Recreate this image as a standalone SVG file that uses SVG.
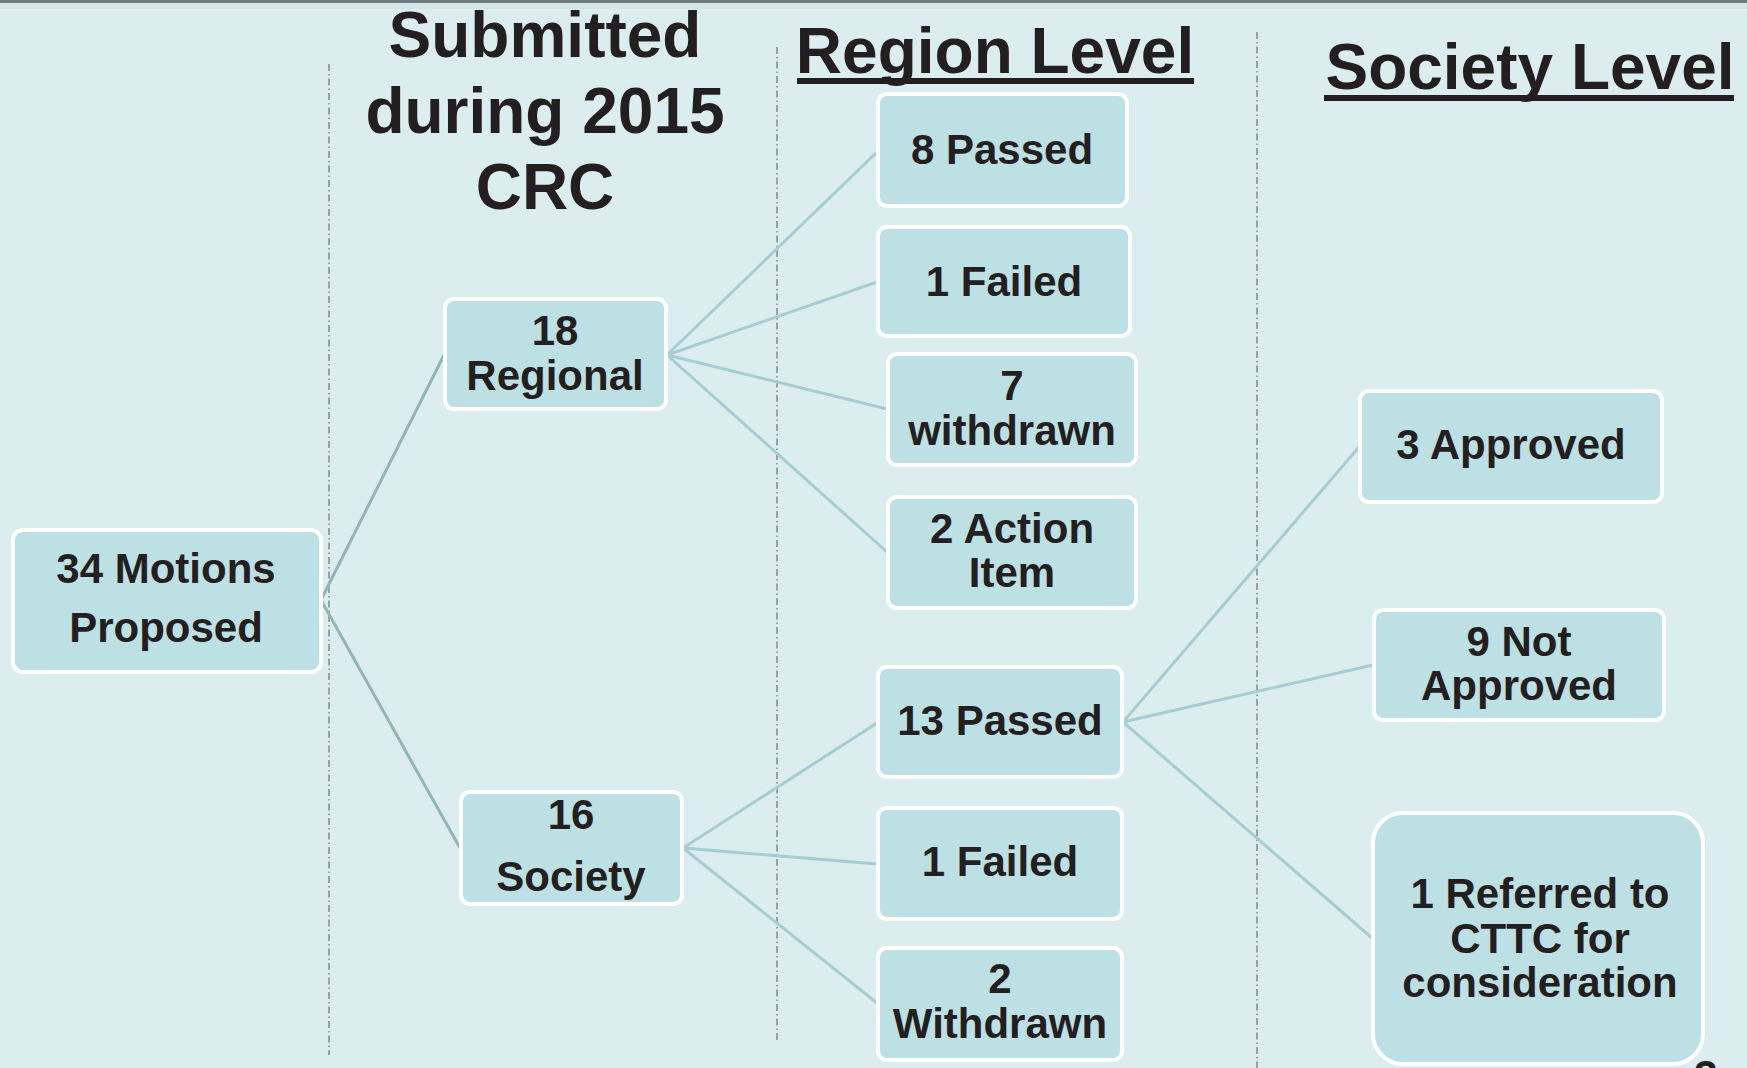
<svg xmlns="http://www.w3.org/2000/svg" width="1747" height="1068" viewBox="0 0 1747 1068">
<style>
.bg{fill:#DCEDEF}
.node rect{fill:#BDE0E4;stroke:#FFFFFF;stroke-width:4}
.t{font-family:"Liberation Sans",Arial,sans-serif;font-weight:bold;font-size:42px;fill:#231F20;text-anchor:middle}
.h{font-family:"Liberation Sans",Arial,sans-serif;font-weight:bold;font-size:64px;fill:#231F20;text-anchor:middle}
.div{stroke:#808080;stroke-width:1.4;stroke-dasharray:7 3 1.5 3;fill:none}
.c{stroke:#A6CDD1;stroke-width:3;fill:none}
.cl{stroke:#94B5B8;stroke-width:3;fill:none}
</style>
<rect class="bg" x="0" y="0" width="1747" height="1068"/>
<rect x="0" y="0" width="1747" height="3" fill="#6E7C80"/>
<rect x="0" y="3" width="1747" height="6" fill="#D5E6E9"/>

<g id="dividers">
<line class="div" x1="329" y1="64" x2="329" y2="1055"/>
<line class="div" x1="777" y1="47" x2="777" y2="1040"/>
<line class="div" x1="1257" y1="32" x2="1257" y2="1068"/>
</g>

<g id="headers">
<text class="h" x="545" y="57">Submitted</text>
<text class="h" x="545" y="133">during 2015</text>
<text class="h" x="545" y="209">CRC</text>
<text class="h" x="995" y="73">Region Level</text>
<rect x="797" y="78" width="397" height="6" fill="#231F20"/>
<text class="h" x="1530" y="89">Society Level</text>
<rect x="1324" y="95" width="410" height="6" fill="#231F20"/>
</g>

<g id="connectors">
<line class="cl" x1="321" y1="600" x2="444" y2="355"/>
<line class="cl" x1="321" y1="600" x2="460" y2="848"/>
<line class="c" x1="667" y1="355" x2="877" y2="152"/>
<line class="c" x1="667" y1="355" x2="877" y2="282"/>
<line class="c" x1="667" y1="355" x2="887" y2="409"/>
<line class="c" x1="667" y1="355" x2="887" y2="552"/>
<line class="c" x1="683" y1="848" x2="877" y2="723"/>
<line class="c" x1="683" y1="848" x2="877" y2="864"/>
<line class="c" x1="683" y1="848" x2="877" y2="1003"/>
<line class="c" x1="1123" y1="722" x2="1359" y2="447"/>
<line class="c" x1="1123" y1="722" x2="1373" y2="665"/>
<line class="c" x1="1123" y1="722" x2="1372" y2="938"/>
</g>

<g id="n-motions" class="node">
<rect x="13" y="530" width="308" height="142" rx="10"/>
<text class="t" x="166" y="583">34 Motions</text>
<text class="t" x="166" y="642">Proposed</text>
</g>
<g id="n-regional" class="node">
<rect x="445" y="299" width="221" height="110" rx="9"/>
<text class="t" x="555" y="345">18</text>
<text class="t" x="555" y="390">Regional</text>
</g>
<g id="n-society" class="node">
<rect x="461" y="792" width="221" height="112" rx="9"/>
<text class="t" x="571" y="829">16</text>
<text class="t" x="571" y="891">Society</text>
</g>
<g id="n-r-passed" class="node">
<rect x="878" y="94" width="249" height="112" rx="9"/>
<text class="t" x="1002" y="164">8 Passed</text>
</g>
<g id="n-r-failed" class="node">
<rect x="878" y="227" width="252" height="109" rx="9"/>
<text class="t" x="1004" y="296">1 Failed</text>
</g>
<g id="n-r-withdrawn" class="node">
<rect x="888" y="354" width="248" height="111" rx="9"/>
<text class="t" x="1012" y="400">7</text>
<text class="t" x="1012" y="445">withdrawn</text>
</g>
<g id="n-r-action" class="node">
<rect x="888" y="497" width="248" height="111" rx="9"/>
<text class="t" x="1012" y="543">2 Action</text>
<text class="t" x="1012" y="587">Item</text>
</g>
<g id="n-s-passed" class="node">
<rect x="878" y="667" width="244" height="110" rx="9"/>
<text class="t" x="1000" y="735">13 Passed</text>
</g>
<g id="n-s-failed" class="node">
<rect x="878" y="808" width="244" height="111" rx="9"/>
<text class="t" x="1000" y="876">1 Failed</text>
</g>
<g id="n-s-withdrawn" class="node">
<rect x="878" y="948" width="244" height="112" rx="9"/>
<text class="t" x="1000" y="993">2</text>
<text class="t" x="1000" y="1038">Withdrawn</text>
</g>
<g id="n-approved" class="node">
<rect x="1360" y="391" width="302" height="111" rx="9"/>
<text class="t" x="1511" y="459">3 Approved</text>
</g>
<g id="n-notapproved" class="node">
<rect x="1374" y="610" width="290" height="110" rx="9"/>
<text class="t" x="1519" y="656">9 Not</text>
<text class="t" x="1519" y="700">Approved</text>
</g>
<g id="n-referred" class="node">
<rect x="1373" y="813" width="330" height="251" rx="30"/>
<text class="t" x="1540" y="908">1 Referred to</text>
<text class="t" x="1540" y="953">CTTC for</text>
<text class="t" x="1540" y="997">consideration</text>
</g>
<text class="t" x="1706" y="1090">3</text>
</svg>
